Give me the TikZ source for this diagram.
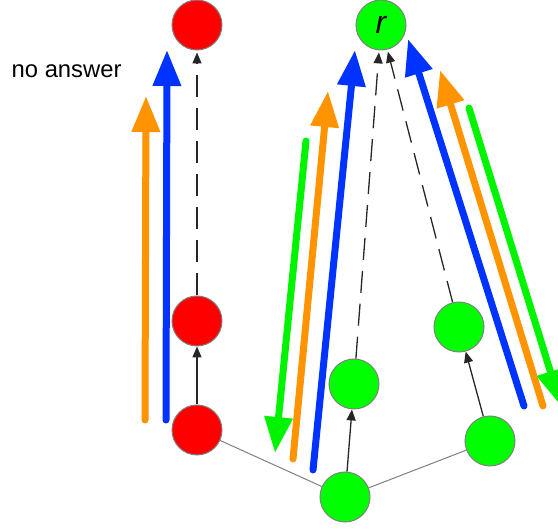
\documentclass[tikz,border=0pt]{standalone}
\usepackage{fontspec}
\setmainfont{Liberation Sans}
\usetikzlibrary{arrows.meta, positioning}
\definecolor{nodered}{HTML}{FF0000}
\definecolor{nodegreen}{HTML}{00FF00}
\definecolor{walkblue}{HTML}{0033FF}
\definecolor{walkorange}{HTML}{FF9400}
\definecolor{walkgreen}{HTML}{00F400}

\begin{document}
\begin{tikzpicture}[x=1pt, y=-1pt,
	vert/.style={draw=gray, line width=1pt, circle, minimum size=50pt, inner sep=0pt},
	redvert/.style={vert, fill=nodered},
	greenvert/.style={vert, fill=nodegreen},
	link/.style={draw=gray, line width=1pt},
	parent/.style={draw=black!85, line width=1.3pt, -{Triangle[length=11pt,width=9pt]}},
	ancestor/.style={parent, dash pattern=on 22pt off 11pt, shorten >=2pt},
	walk/.style={line width=7pt, line cap=round, -{Triangle[length=36pt,width=27pt]}}]
	\useasboundingbox (0,0) rectangle (558,529);
	
	\node[redvert] (rB) at (197,430) {};
	\node[redvert] (rM) [above = 58pt of rB] {};
	\node[redvert] (rT) [above = 245pt of rM] {};
	
	\node[greenvert] (g0) at (345,497) {};
	\node[greenvert] (gL) at (354,384) {};
	\node[greenvert] (gRB) at (490,441) {};
	\node[greenvert] (gRM) at (459,327) {};
	\node[greenvert, font=\fontsize{32}{36}\selectfont\itshape] (r) at (381,25) {r};
	
	\node[anchor=base west, inner sep=0pt, font=\fontsize{23.8}{28}\selectfont] (noans) at (11.5,77.7) {no answer};
	
	\draw[link] (rB) -- (g0);
	\draw[link] (g0) -- (gRB);
	
	\draw[parent] (rB) -- (rM);
	\draw[ancestor] (rM) -- (rT);
	\draw[parent] (g0) -- (gL);
	\draw[ancestor] (gL) -- (r);
	\draw[parent] (gRB) -- (gRM);
	\draw[ancestor] (gRM) -- (r);
	
	\coordinate (oL0) at (145,420);
	\coordinate (oL1) at (146,96);
	\coordinate (bL0) at (166,420);
	\coordinate (bL1) at (167,50);
	
	\coordinate (gM0) at (306,141);
	\coordinate (gM1) at (275,453);
	\coordinate (oM0) at (293,459);
	\coordinate (oM1) at (328,91);
	\coordinate (bM0) at (313,470);
	\coordinate (bM1) at (355,50);
	
	\coordinate (bR0) at (524,406);
	\coordinate (bR1) at (408,39);
	\coordinate (oR0) at (543,406);
	\coordinate (oR1) at (440,70);
	\coordinate (gR0) at (469,108);
	\coordinate (gR1) at (561,406);
	
	\draw[walk, walkorange] (oL0) -- (oL1);
	\draw[walk, walkblue] (bL0) -- (bL1);
	
	\draw[walk, walkgreen] (gM0) -- (gM1);
	\draw[walk, walkorange] (oM0) -- (oM1);
	\draw[walk, walkblue] (bM0) -- (bM1);
	
	\draw[walk, walkblue] (bR0) -- (bR1);
	\draw[walk, walkorange] (oR0) -- (oR1);
	\draw[walk, walkgreen] (gR0) -- (gR1);
\end{tikzpicture}
\end{document}
